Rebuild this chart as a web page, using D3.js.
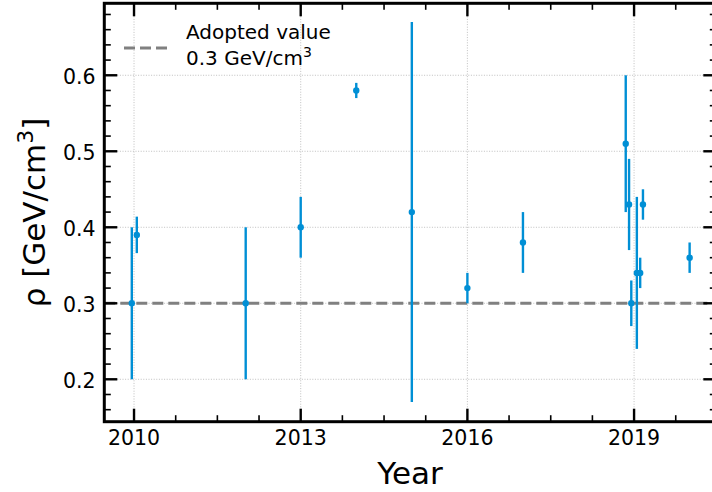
<!DOCTYPE html>
<html>
<head>
<meta charset="utf-8">
<script src="https://cdn.jsdelivr.net/npm/d3@7/dist/d3.min.js"></script>
<style>
  html, body { margin: 0; padding: 0; background: #fff; }
  svg { display: block; font-family: "DejaVu Sans", sans-serif; }
</style>
</head>
<body>
<svg id="chart" width="712" height="492"></svg>
<script>
// Local dark-matter density measurements by publication year
const years = [2009.96, 2010.05, 2012.01, 2013.0, 2014.0, 2015.0, 2016.0, 2017.0,
               2018.85, 2018.91, 2018.95, 2019.05, 2019.11, 2019.16, 2020.0];
const rho   = [0.30, 0.39, 0.30, 0.40, 0.58, 0.42, 0.32, 0.38,
               0.51, 0.43, 0.30, 0.34, 0.34, 0.43, 0.36];
const rhoErr = [0.10, 0.024, 0.10, 0.04, 0.01, 0.25, 0.02, 0.04,
                0.09, 0.06, 0.03, 0.10, 0.02, 0.02, 0.02];

const adoptedValue = 0.3;
const xTickValues = [2010, 2013, 2016, 2019];
const yTickValues = [0.2, 0.3, 0.4, 0.5, 0.6];

const svg = d3.select("#chart");
const plotL = 104.3, plotR = 716.3, plotT = 3.3, plotB = 421.7;

const x = d3.scaleLinear().domain([2009.465, 2020.48]).range([plotL, plotR]);
const y = d3.scaleLinear().domain([0.1442, 0.6947]).range([plotB, plotT]);

const blue = "#008fd5";

const xMinor = d3.range(2010, 2020.48, 0.75).filter(v => !xTickValues.some(t => Math.abs(t - v) < 1e-6));
const yMinor = d3.range(0.16, 0.69, 0.02).filter(v => !yTickValues.some(t => Math.abs(t - v) < 1e-6));

// grid
const grid = svg.append("g");
grid.selectAll(null).data(xTickValues).join("line")
  .attr("x1", d => x(d)).attr("x2", d => x(d)).attr("y1", plotT).attr("y2", plotB)
  .attr("stroke", "#b0b0b0").attr("stroke-width", 0.8).attr("stroke-dasharray", "1,1.6");
grid.selectAll(null).data(yTickValues).join("line")
  .attr("y1", d => y(d)).attr("y2", d => y(d)).attr("x1", plotL).attr("x2", plotR)
  .attr("stroke", "#b0b0b0").attr("stroke-width", 0.8).attr("stroke-dasharray", "1,1.6");

// adopted value reference line
svg.append("line")
  .attr("x1", plotL).attr("x2", plotR).attr("y1", y(adoptedValue)).attr("y2", y(adoptedValue))
  .attr("stroke", "#808080").attr("stroke-width", 3).attr("stroke-dasharray", "11,5");

// error bars and points
const pts = svg.append("g");
pts.selectAll("line").data(years).join("line")
  .attr("x1", (d) => x(d)).attr("x2", (d) => x(d))
  .attr("y1", (d, i) => y(rho[i] - rhoErr[i])).attr("y2", (d, i) => y(rho[i] + rhoErr[i]))
  .attr("stroke", blue).attr("stroke-width", 2.4);
pts.selectAll("circle").data(years).join("circle")
  .attr("cx", d => x(d)).attr("cy", (d, i) => y(rho[i])).attr("r", 3.2)
  .attr("fill", blue);

// ticks (inward on all sides)
const ticks = svg.append("g").attr("stroke", "#000");
function tickSetX(vals, len, w) {
  ticks.selectAll(null).data(vals).join("line")
    .attr("x1", d => x(d)).attr("x2", d => x(d)).attr("y1", plotB).attr("y2", plotB - len)
    .attr("stroke-width", w);
  ticks.selectAll(null).data(vals).join("line")
    .attr("x1", d => x(d)).attr("x2", d => x(d)).attr("y1", plotT).attr("y2", plotT + len)
    .attr("stroke-width", w);
}
function tickSetY(vals, len, w) {
  ticks.selectAll(null).data(vals).join("line")
    .attr("y1", d => y(d)).attr("y2", d => y(d)).attr("x1", plotL).attr("x2", plotL + len)
    .attr("stroke-width", w);
  ticks.selectAll(null).data(vals).join("line")
    .attr("y1", d => y(d)).attr("y2", d => y(d)).attr("x1", plotR).attr("x2", plotR - len)
    .attr("stroke-width", w);
}
tickSetX(xTickValues, 13, 2.4);
tickSetX(xMinor, 6.5, 1.6);
tickSetY(yTickValues, 13, 2.4);
tickSetY(yMinor, 6.5, 1.6);

// spines
svg.append("rect")
  .attr("x", plotL).attr("y", plotT).attr("width", plotR - plotL).attr("height", plotB - plotT)
  .attr("fill", "none").attr("stroke", "#000").attr("stroke-width", 3);

// tick labels
svg.append("g").selectAll("text").data(xTickValues).join("text")
  .attr("x", d => x(d)).attr("y", 445).attr("text-anchor", "middle")
  .attr("font-size", 20.5).attr("fill", "#000").text(d => d);
svg.append("g").selectAll("text").data(yTickValues).join("text")
  .attr("x", 95.5).attr("y", d => y(d) + 8.5).attr("text-anchor", "end")
  .attr("font-size", 20.5).attr("fill", "#000").text(d => d.toFixed(1));

// axis labels
svg.append("text").attr("x", 410).attr("y", 484).attr("text-anchor", "middle")
  .attr("font-size", 31).attr("fill", "#000").text("Year");
const yl = svg.append("text").attr("transform", "translate(45,212.5) rotate(-90)")
  .attr("text-anchor", "middle").attr("font-size", 31).attr("fill", "#000");
yl.append("tspan").text("ρ [GeV/cm");
yl.append("tspan").attr("font-size", 22).attr("dy", -12).text("3");
yl.append("tspan").attr("dy", 12).text("]");

// legend
svg.append("line").attr("x1", 124).attr("x2", 168).attr("y1", 48).attr("y2", 48)
  .attr("stroke", "#808080").attr("stroke-width", 3).attr("stroke-dasharray", "11,5");
svg.append("text").attr("x", 186).attr("y", 38.5).attr("font-size", 20).attr("fill", "#000")
  .text("Adopted value");
const l2 = svg.append("text").attr("x", 186).attr("y", 64.5).attr("font-size", 20).attr("fill", "#000");
l2.append("tspan").text("0.3 GeV/cm");
l2.append("tspan").attr("font-size", 14).attr("dy", -8).text("3");
</script>
</body>
</html>
